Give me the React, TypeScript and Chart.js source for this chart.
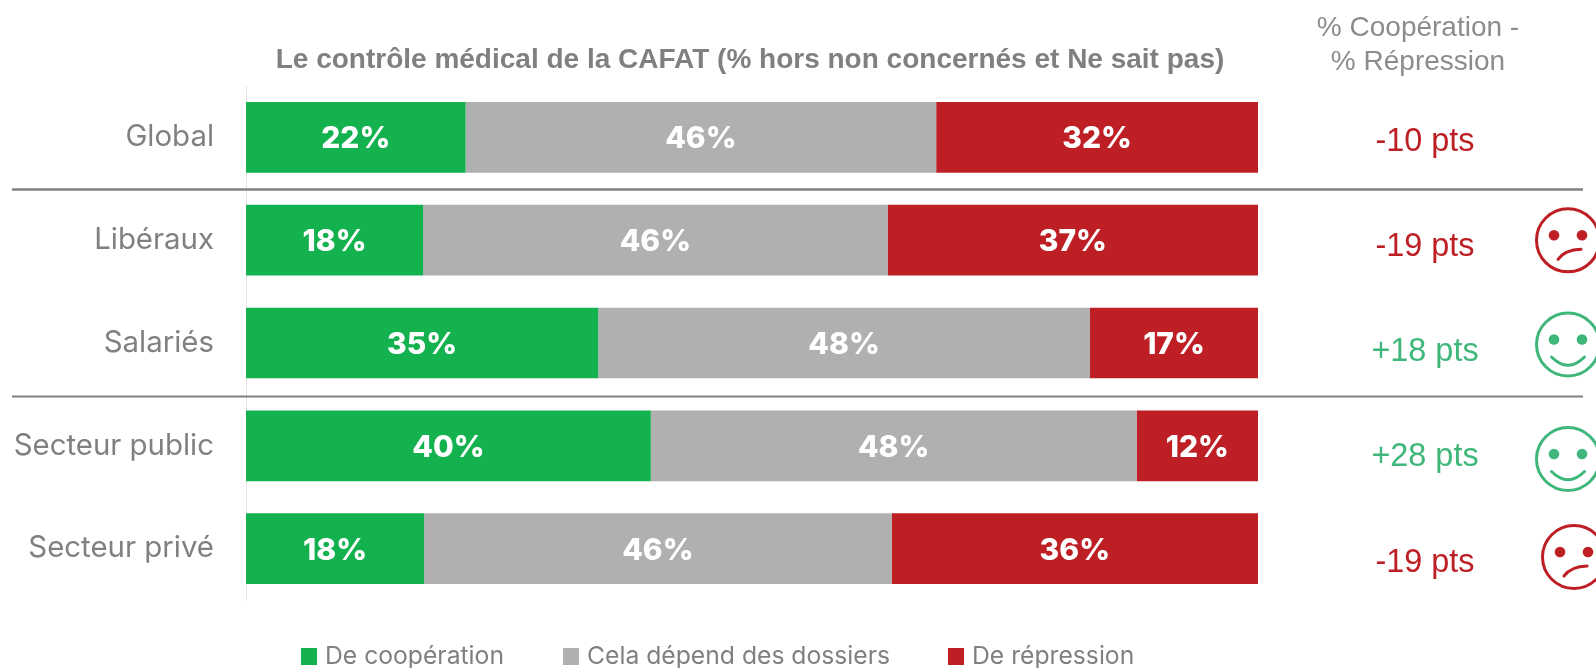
import React, { useEffect, useRef } from "react";
import { Chart, registerables } from "chart.js";

Chart.register(...registerables);

const categories = ["Global", "Libéraux", "Salariés", "Secteur public", "Secteur privé"];
const seriesNames = ["De coopération", "Cela dépend des dossiers", "De répression"];
const cooperation = [21.7, 17.5, 34.8, 40.0, 17.6];
const dependent = [46.5, 45.9, 48.6, 48.0, 46.2];
const repression = [31.8, 36.6, 16.6, 12.0, 36.2];
const cooperationLabels = ["22%", "18%", "35%", "40%", "18%"];
const dependentLabels = ["46%", "46%", "48%", "48%", "46%"];
const repressionLabels = ["32%", "37%", "17%", "12%", "36%"];
const gaps = ["-10 pts", "-19 pts", "+18 pts", "+28 pts", "-19 pts"];
const moods = ["", "sad", "happy", "happy", "sad"];
const titleText = "Le contrôle médical de la CAFAT (% hors non concernés et Ne sait pas)";
const sideHeader = ["% Coopération -", "% Répression"];

const GREEN = "#14b14f";
const GREY = "#b0b0b0";
const RED = "#bd1f25";
const SOFT_GREEN = "#3fb77a";
const TEXT_GREY = "#808080";
const ARIAL = '"Liberation Sans", Arial, sans-serif';
const GEO = 'Inter, "Noto Sans", sans-serif';

const gapY = [142, 247, 352, 457, 563];
const faceX = [0, 1568, 1568, 1568, 1574];
const faceY = [0, 240.3, 344.5, 459, 557];
const legendX = [301, 563, 948];

function drawFace(ctx: CanvasRenderingContext2D, x: number, y: number, mood: string) {
  const c = mood === "happy" ? SOFT_GREEN : RED;
  ctx.save();
  ctx.strokeStyle = c;
  ctx.fillStyle = c;
  ctx.lineWidth = 3;
  ctx.lineCap = "round";
  ctx.beginPath();
  ctx.arc(x, y, 31.5, 0, Math.PI * 2);
  ctx.stroke();
  for (const dx of [-14, 14]) {
    ctx.beginPath();
    ctx.arc(x + dx, y - 5, 5.3, 0, Math.PI * 2);
    ctx.fill();
  }
  ctx.beginPath();
  if (mood === "happy") {
    ctx.moveTo(x - 16.5, y + 12.5);
    ctx.quadraticCurveTo(x, y + 29, x + 16.5, y + 12.5);
  } else {
    ctx.moveTo(x - 10, y + 19);
    ctx.quadraticCurveTo(x - 3, y + 9.5, x + 13, y + 9);
  }
  ctx.stroke();
  ctx.restore();
}

const decorations = {
  id: "decorations",
  afterDatasetsDraw(chart: any) {
    const ctx: CanvasRenderingContext2D = chart.ctx;
    ctx.save();
    // separators
    ctx.strokeStyle = TEXT_GREY;
    ctx.lineWidth = 2.6;
    ctx.beginPath();
    ctx.moveTo(12, 189.5);
    ctx.lineTo(1583, 189.5);
    ctx.stroke();
    ctx.lineWidth = 2;
    ctx.beginPath();
    ctx.moveTo(12, 396.5);
    ctx.lineTo(1583, 396.5);
    ctx.stroke();

    // value labels
    const labelSets = [cooperationLabels, dependentLabels, repressionLabels];
    ctx.textAlign = "center";
    ctx.textBaseline = "middle";
    ctx.fillStyle = "#ffffff";
    ctx.font = `800 30px ${GEO}`;
    chart.data.datasets.forEach((_: any, di: number) => {
      chart.getDatasetMeta(di).data.forEach((bar: any, i: number) => {
        const p = bar.getCenterPoint();
        ctx.fillText(labelSets[di][i], p.x, p.y + 2);
      });
    });

    // right-hand column
    ctx.fillStyle = "#8c8c8c";
    ctx.font = `28px ${ARIAL}`;
    ctx.fillText(sideHeader[0], 1418, 28);
    ctx.fillText(sideHeader[1], 1418, 62);
    ctx.font = `32.4px ${ARIAL}`;
    gaps.forEach((g, i) => {
      ctx.fillStyle = g.startsWith("+") ? SOFT_GREEN : RED;
      ctx.fillText(g, 1425, gapY[i]);
    });
    moods.forEach((m, i) => {
      if (m) drawFace(ctx, faceX[i], faceY[i], m);
    });

    // title
    ctx.fillStyle = TEXT_GREY;
    ctx.font = `bold 28px ${ARIAL}`;
    ctx.fillText(titleText, 750, 60);

    // legend
    ctx.textAlign = "left";
    ctx.font = `24.7px ${GEO}`;
    chart.data.datasets.forEach((d: any, i: number) => {
      ctx.fillStyle = d.backgroundColor;
      ctx.fillRect(legendX[i], 648, 16, 17);
      ctx.fillStyle = TEXT_GREY;
      ctx.fillText(d.label, legendX[i] + 24, 657);
    });
    ctx.restore();
  },
};

export default function App() {
  const ref = useRef<HTMLCanvasElement>(null);
  useEffect(() => {
    const chart = new Chart(ref.current as HTMLCanvasElement, {
      type: "bar",
      data: {
        labels: categories,
        datasets: [
          { label: seriesNames[0], data: cooperation, backgroundColor: GREEN },
          { label: seriesNames[1], data: dependent, backgroundColor: GREY },
          { label: seriesNames[2], data: repression, backgroundColor: RED },
        ],
      },
      options: {
        indexAxis: "y",
        responsive: false,
        animation: false,
        layout: { padding: { left: 0, right: 338, top: 86, bottom: 68 } },
        datasets: { bar: { categoryPercentage: 1, barPercentage: 0.688 } },
        plugins: { legend: { display: false }, title: { display: false }, tooltip: { enabled: false } },
        scales: {
          x: { stacked: true, min: 0, max: 100, display: false },
          y: {
            stacked: true,
            afterFit: (s: any) => { s.width = 246; },
            grid: { display: false, drawTicks: false },
            border: { display: true, color: "#e4e4e4", width: 1 },
            ticks: { color: TEXT_GREY, font: { family: GEO, size: 29.4 }, padding: 32 },
          },
        },
      } as any,
      plugins: [decorations],
    });
    return () => chart.destroy();
  }, []);
  return (
    <canvas
      ref={ref}
      width={1596}
      height={668}
      style={{ position: "absolute", left: 0, top: 0, width: 1596, height: 668, display: "block" }}
    />
  );
}
